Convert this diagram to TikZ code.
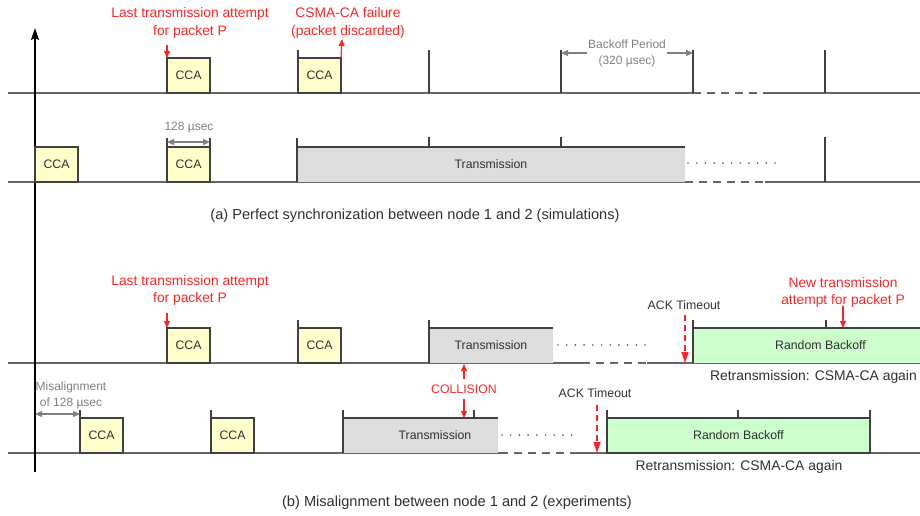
\documentclass[tikz,border=0pt]{standalone}
\usepackage{fontspec}
\setmainfont{Liberation Sans}
\usetikzlibrary{arrows.meta}
\definecolor{ccafill}{HTML}{FFFFCC}
\definecolor{txfill}{HTML}{DDDDDD}
\definecolor{rbfill}{HTML}{CCFFCC}
\definecolor{redc}{HTML}{FF2424}
\definecolor{linec}{HTML}{666666}
\definecolor{boxc}{HTML}{404040}
\definecolor{annc}{HTML}{808080}
\definecolor{txtc}{HTML}{303030}
\begin{document}
\begin{tikzpicture}[x=1pt,y=-1pt,
  base/.style={font=\fontsize{12.3}{14}\selectfont, text=txtc},
  box/.style={base, inner sep=0pt, outer sep=0pt, anchor=south west, minimum height=35pt},
  cca/.style={box, draw=boxc, line width=1.1pt, fill=ccafill, minimum width=43pt},
  txbox/.style={box, fill=txfill},
  rbbox/.style={box, fill=rbfill},
  edge/.style={draw=boxc, line width=1.1pt},
  baseln/.style={draw=linec, line width=1.5pt},
  dashln/.style={draw=linec, line width=1.5pt, dash pattern=on 8pt off 6pt},
  dotln/.style={draw=linec, line width=1.9pt, line cap=round, dash pattern=on 0pt off 8.7pt},
  tick/.style={draw=boxc, line width=1.3pt},
  redlbl/.style={font=\fontsize{13.8}{17.5}\selectfont, text=redc, align=center, inner sep=0pt},
  redtxt/.style={font=\fontsize{12.3}{14}\selectfont, text=redc, inner sep=0pt},
  redarr/.style={draw=redc, line width=1.2pt, -{Triangle[length=7pt,width=6pt]}},
  ackarr/.style={draw=redc, line width=1.3pt, dash pattern=on 6pt off 4pt, -{Triangle[length=11pt,width=7pt]}},
  graylbl/.style={font=\fontsize{12}{16}\selectfont, text=annc, align=center, inner sep=0pt},
  dimone/.style={draw=annc, line width=1.2pt, -{Triangle[length=7pt,width=6pt]}},
  dimarr/.style={draw=annc, line width=1.2pt, {Triangle[length=7pt,width=6pt]}-{Triangle[length=7pt,width=6pt]}},
  axisln/.style={draw=black, line width=1.3pt, -{Stealth[length=12pt,width=8pt,inset=2pt]}},
  retr/.style={font=\fontsize{13.9}{16}\selectfont, text=txtc, inner sep=0pt},
  caption/.style={font=\fontsize{14.6}{17}\selectfont, text=txtc, inner sep=0pt}
]
\path[use as bounding box] (0,0) rectangle (920,515);
\clip (0,0) rectangle (920,515);

% ---------- baselines ----------
\coordinate (a1s) at (8,93);   \coordinate (a1d1) at (693,93);  \coordinate (a1d2) at (765,93);  \coordinate (a1e) at (920,93);
\coordinate (a2s) at (8,182);  \coordinate (a2d1) at (685,182); \coordinate (a2d2) at (765,182); \coordinate (a2e) at (920,182);
\coordinate (b1s) at (8,363);  \coordinate (b1d1) at (582,363); \coordinate (b1d2) at (647,363); \coordinate (b1e) at (920,363);
\coordinate (b2s) at (8,453);  \coordinate (b2d1) at (500,453); \coordinate (b2d2) at (575,453); \coordinate (b2e) at (920,453);
\draw[baseln] (a1s) -- (a1d1); \draw[dashln] (a1d1) -- (a1d2); \draw[baseln] (a1d2) -- (a1e);
\draw[baseln] (a2s) -- (a2d1); \draw[dashln] (a2d1) -- (a2d2); \draw[baseln] (a2d2) -- (a2e);
\draw[baseln] (b1s) -- (b1d1); \draw[dashln] (b1d1) -- (b1d2); \draw[baseln] (b1d2) -- (b1e);
\draw[baseln] (b2s) -- (b2d1); \draw[dashln] (b2d1) -- (b2d2); \draw[baseln] (b2d2) -- (b2e);

% ---------- axis ----------
\coordinate (ax0) at (35,472); \coordinate (ax1) at (35,28);
\draw[axisln] (ax0) -- (ax1);

% ---------- (a) row 1 ----------
\node[cca] (a1c1) at (167,93) {CCA};
\node[cca] (a1c2) at (298,93) {CCA};
\draw[tick] (a1c2.north west) -- ++(0,-8);
\coordinate (t1a) at (429,93); \coordinate (t1b) at (561,93); \coordinate (t1c) at (693,93); \coordinate (t1d) at (825,93);
\draw[tick] (t1a) -- ++(0,-43);
\draw[tick] (t1b) -- ++(0,-43);
\draw[tick] (t1c) -- ++(0,-43);
\draw[tick] (t1d) -- ++(0,-43);
\node[redlbl] (lbl1) at (190,23) {Last transmission attempt\\for packet P};
\coordinate (lbl1a) at (167,45);
\draw[redarr] (lbl1a) -- (a1c1.north west);
\node[redlbl] (lbl2) at (348,23) {CSMA-CA failure\\(packet discarded)};
\coordinate (lbl2a) at (342,39);
\draw[redarr] (a1c2.north east) -- (lbl2a);
\node[graylbl, inner xsep=1pt] (bp) at (627,53) {Backoff Period\\(320 µsec)};
\coordinate (bpl) at (561,53); \coordinate (bpr) at (693,53);
\draw[dimone] (bp.west) -- (bpl);
\draw[dimone] (bp.east) -- (bpr);

% ---------- (a) row 2 ----------
\node[cca] (a2c1) at (35,182) {CCA};
\node[cca] (a2c2) at (167,182) {CCA};
\node[txbox, minimum width=388pt] (a2t) at (297,182) {Transmission};
\draw[edge] (a2t.south west) |- (a2t.north east);
\draw[tick] (a2c2.north west) -- ++(0,-9);
\draw[tick] (a2c2.north east) -- ++(0,-9);
\draw[tick] (a2t.north west) -- ++(0,-9);
\coordinate (t2a) at (429,146); \coordinate (t2b) at (561,146); \coordinate (t2c) at (825,182);
\draw[tick] (t2a) -- ++(0,-9);
\draw[tick] (t2b) -- ++(0,-9);
\draw[tick] (t2c) -- ++(0,-45);
\node[graylbl] (u128) at (189,128) {128 µsec};
\draw[dimarr] ([yshift=5pt]a2c2.north west) -- ([yshift=5pt]a2c2.north east);
\coordinate (dt2a) at (688,163); \coordinate (dt2b) at (776,163);
\draw[dotln] (dt2a) -- (dt2b);
\node[caption] (capa) at (415,216) {(a) Perfect synchronization between node 1 and 2 (simulations)};

% ---------- (b) row 1 ----------
\node[cca] (b1c1) at (167,363) {CCA};
\node[cca] (b1c2) at (298,363) {CCA};
\node[txbox, minimum width=124pt] (b1t) at (429,363) {Transmission};
\draw[edge] (b1t.south west) |- (b1t.north east);
\node[rbbox, minimum width=255pt] (b1r) at (693,363) {Random Backoff};
\draw[edge] (b1r.south west) |- (b1r.north east);
\draw[tick] (b1c2.north west) -- ++(0,-8);
\draw[tick] (b1t.north west) -- ++(0,-8);
\draw[tick] (b1r.north west) -- ++(0,-8);
\coordinate (t3a) at (826,328);
\draw[tick] (t3a) -- ++(0,-8);
\coordinate (dt3a) at (558,345); \coordinate (dt3b) at (646,345);
\draw[dotln] (dt3a) -- (dt3b);
\node[redlbl] (lbl3) at (190,290.5) {Last transmission attempt\\for packet P};
\coordinate (lbl3a) at (167,313);
\draw[redarr] (lbl3a) -- (b1c1.north west);
\node[redlbl] (lbl4) at (843,292.5) {New transmission\\attempt for packet P};
\coordinate (lbl4a) at (843,306); \coordinate (lbl4b) at (843,328);
\draw[redarr] (lbl4a) -- (lbl4b);
\node[base] (ack1) at (684,305) {ACK Timeout};
\coordinate (ack1a) at (685,315); \coordinate (ack1b) at (685,363);
\draw[ackarr] (ack1a) -- (ack1b);
\node[retr, anchor=east] (rt1) at (917,377) {Retransmission: CSMA-CA again};

% ---------- collision ----------
\node[redtxt] (col) at (464,389) {COLLISION};
\coordinate (colu0) at (464,379); \coordinate (colu1) at (464,364);
\coordinate (cold0) at (464,399); \coordinate (cold1) at (464,418);
\draw[redarr] (colu0) -- (colu1);
\draw[redarr] (cold0) -- (cold1);

% ---------- (b) row 2 ----------
\node[cca] (b2c1) at (80,453) {CCA};
\node[cca] (b2c2) at (211,453) {CCA};
\node[txbox, minimum width=155pt] (b2t) at (343,453) {\hspace*{29pt}Transmission};
\draw[edge] (b2t.south west) |- (b2t.north east);
\node[rbbox, draw=boxc, line width=1.1pt, minimum width=263pt] (b2r) at (607,453) {Random Backoff};
\draw[tick] (b2c1.north west) -- ++(0,-8);
\draw[tick] (b2c2.north west) -- ++(0,-8);
\draw[tick] (b2t.north west) -- ++(0,-8);
\coordinate (t4a) at (474,418); \coordinate (t4b) at (738,418);
\draw[tick] (t4a) -- ++(0,-8);
\draw[tick] (b2r.north west) -- ++(0,-8);
\draw[tick] (t4b) -- ++(0,-8);
\draw[tick] (b2r.north east) -- ++(0,-8);
\coordinate (dt4a) at (502,435); \coordinate (dt4b) at (572,435);
\draw[dotln] (dt4a) -- (dt4b);
\node[base] (ack2) at (595,393) {ACK Timeout};
\coordinate (ack2a) at (597,405); \coordinate (ack2b) at (597,453);
\draw[ackarr] (ack2a) -- (ack2b);
\node[retr] (rt2) at (739,467) {Retransmission: CSMA-CA again};
\node[graylbl] (mis) at (71,395) {Misalignment\\of 128 µsec};
\coordinate (misa) at (35,414);
\draw[dimarr] (misa) -- ([yshift=4pt]b2c1.north west);
\node[caption] (capb) at (457,503) {(b) Misalignment between node 1 and 2 (experiments)};
\end{tikzpicture}
\end{document}
